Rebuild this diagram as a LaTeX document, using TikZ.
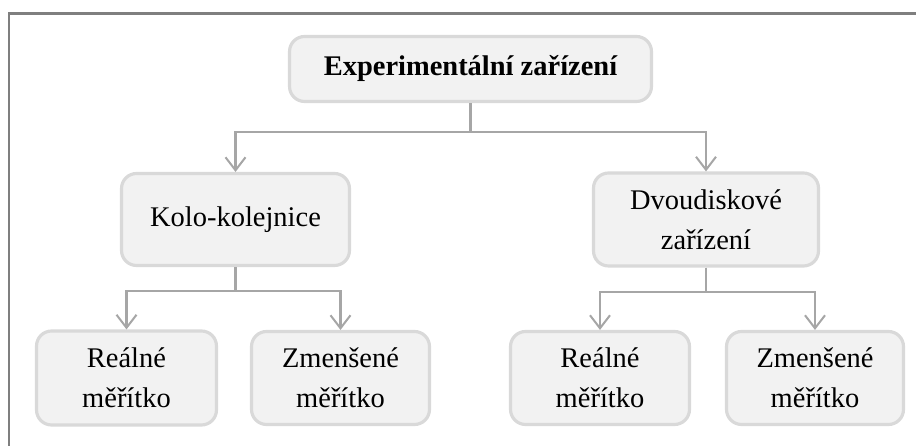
\documentclass[tikz,border=0pt]{standalone}
\usepackage{fontspec}
\setmainfont{Liberation Serif}
\usetikzlibrary{arrows.meta}
\definecolor{boxfill}{HTML}{F2F2F2}
\definecolor{boxline}{HTML}{D9D9D9}
\definecolor{connline}{HTML}{A6A6A6}
\definecolor{frameline}{HTML}{7F7F7F}
\begin{document}
\begin{tikzpicture}[x=0.02cm, y=0.02cm,
    every node/.style={font=\fontsize{16.2pt}{22.7pt}\selectfont},
    box/.style={draw=boxline, fill=boxfill, line width=1.8pt, rounded corners=0.3cm,
        align=center, inner sep=0pt},
    conn/.style={draw=connline, line width=1.15pt, -{Straight Barb[length=0.26cm, width=0.4cm, line width=1.15pt]}}]
    \useasboundingbox (0,0) rectangle (916,446);
    \clip (0,0) rectangle (916,446);
    % frame
    \draw[frameline, line width=1.7pt] (9,-20) -- (9,432.5) -- (940,432.5);
    % boxes
    \node[box, minimum width=7.24cm, minimum height=1.3cm, font=\fontsize{16.2pt}{22.7pt}\selectfont\bfseries] (top) at (470.5,377) {Experimentální zařízení};
    \node[box, minimum width=4.56cm, minimum height=1.84cm] (kolo) at (235.5,226.5) {Kolo-kolejnice};
    \node[box, minimum width=4.5cm, minimum height=1.86cm] (dvou) at (706,226.5) {Dvoudiskové\\zařízení};
    \node[box, minimum width=3.6cm, minimum height=1.88cm] (real1) at (126.5,68) {Reálné\\měřítko};
    \node[box, minimum width=3.56cm, minimum height=1.86cm] (zmen1) at (340.5,68) {Zmenšené\\měřítko};
    \node[box, minimum width=3.58cm, minimum height=1.86cm] (real2) at (600,68) {Reálné\\měřítko};
    \node[box, minimum width=3.54cm, minimum height=1.86cm] (zmen2) at (815,68) {Zmenšené\\měřítko};
    % connectors
    \draw[conn] (top.south) -- ++(0,-29) -| (kolo.north);
    \draw[conn] (top.south) -- ++(0,-29) -| (dvou.north);
    \draw[conn] (kolo.south) -- ++(0,-24) -| (real1.north);
    \draw[conn] (kolo.south) -- ++(0,-24) -| (zmen1.north);
    \draw[conn] (dvou.south) -- ++(0,-24) -| (real2.north);
    \draw[conn] (dvou.south) -- ++(0,-24) -| (zmen2.north);
\end{tikzpicture}
\end{document}
